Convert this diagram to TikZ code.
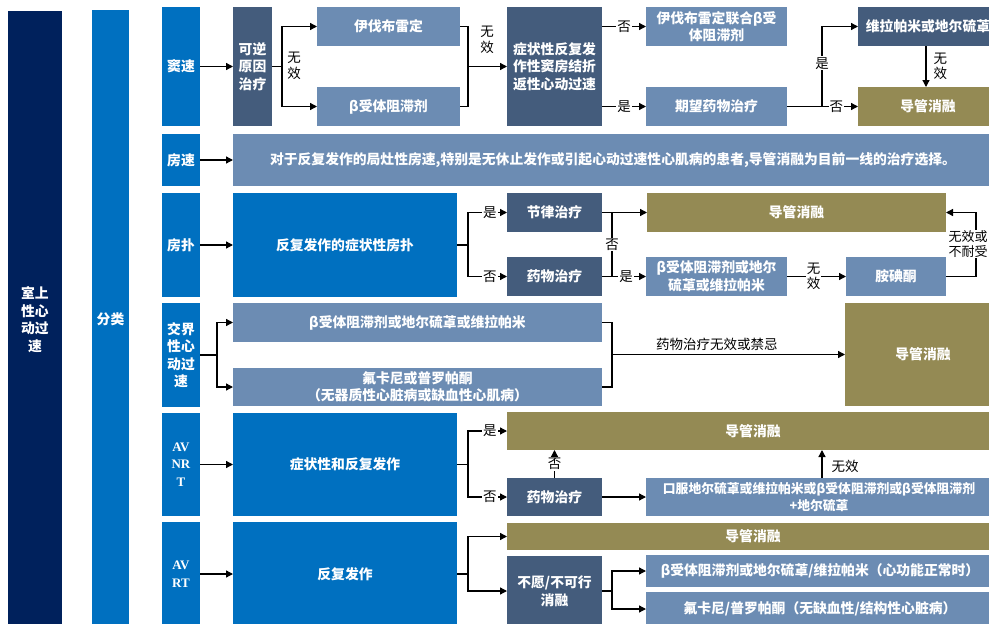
\documentclass[tikz,border=0pt]{standalone}
\usepackage{fontspec}
\usetikzlibrary{arrows.meta,calc}
\newfontfamily\cjk{Noto Sans CJK SC}
\newfontfamily\lserif{Liberation Serif}
\definecolor{cnavy}{HTML}{00215C}
\definecolor{cblue}{HTML}{0070C0}
\definecolor{cslate}{HTML}{445C7C}
\definecolor{csteel}{HTML}{6C8CB3}
\definecolor{colive}{HTML}{948A54}
\tikzset{
  box/.style={inner sep=0pt, outer sep=0pt, anchor=north west, text=white, align=center,
    font=\cjk\bfseries\fontsize{13.8}{17.5}\selectfont},
  navybox/.style={box, fill=cnavy},
  bluebox/.style={box, fill=cblue},
  slatebox/.style={box, fill=cslate},
  steelbox/.style={box, fill=csteel},
  olivebox/.style={box, fill=colive},
  bw/.style n args={4}{minimum width={(#3-#1)*1pt}, minimum height={(#4-#2)*1pt}},
  arr/.style={line width=1.3pt, -{Triangle[length=7pt,width=7pt]}},
  ln/.style={line width=1.3pt},
  lbl/.style={fill=white, inner sep=1pt, text=black, align=center, font=\cjk\fontsize{13.5}{15.5}\selectfont},
  lblnf/.style={inner sep=1pt, text=black, align=center, font=\cjk\fontsize{13.5}{15.5}\selectfont},
}
\begin{document}
\begin{tikzpicture}[x=1pt,y=-1pt]
\useasboundingbox (0,0) rectangle (989,624);
\clip (0,0) rectangle (989,624);
\fill[white] (0,0) rectangle (989,624);
% left bars
\node[navybox, bw={8}{11}{62}{628}] (main) at (8,11) {室上\\性心\\动过\\速};
\node[bluebox, bw={92}{10}{129}{628}] (cls) at (92,10) {分类};
% category column
\node[bluebox, bw={162}{7}{200}{126}] (c1) at (162,7) {窦速};
\node[bluebox, bw={162}{134}{200}{186}] (c2) at (162,134) {房速};
\node[bluebox, bw={162}{193}{200}{297}] (c3) at (162,193) {房扑};
\node[bluebox, bw={162}{303}{200}{407}] (c4) at (162,303) {交界\\性心\\动过\\速};
\node[bluebox, bw={162}{413}{200}{516}, font=\lserif\bfseries\fontsize{13}{17.5}\selectfont] (c5) at (162,413) {AV\\NR\\T};
\node[bluebox, bw={162}{522}{200}{626}, font=\lserif\bfseries\fontsize{13}{17.5}\selectfont] (c6) at (162,522) {AV\\RT};
% row 1
\node[slatebox, bw={233}{7}{272}{126}] (r1a) at (233,7) {可逆\\原因\\治疗};
\node[steelbox, bw={317}{7}{460}{46}] (r1b) at (317,7) {伊伐布雷定};
\node[steelbox, bw={317}{87}{460}{126}] (r1c) at (317,87) {β受体阻滞剂};
\node[slatebox, bw={507}{7}{602}{126}] (r1d) at (507,7) {症状性反复发\\作性窦房结折\\返性心动过速};
\node[steelbox, bw={646}{7}{787}{46}] (r1e) at (646,7) {伊伐布雷定联合β受\\体阻滞剂};
\node[steelbox, bw={646}{87}{787}{126}] (r1f) at (646,87) {期望药物治疗};
\node[slatebox, bw={858}{7}{998}{46}] (r1g) at (858,7) {维拉帕米或地尔硫䓬};
\node[olivebox, bw={858}{87}{998}{126}] (r1h) at (858,87) {导管消融};
% row 2
\node[steelbox, bw={233}{134}{993}{186}] (r2) at (233,134) {对于反复发作的局灶性房速,特别是无休止发作或引起心动过速性心肌病的患者,导管消融为目前一线的治疗选择。};
% row 3
\node[bluebox, bw={233}{193}{457}{297}] (r3a) at (233,193) {反复发作的症状性房扑};
\node[slatebox, bw={507}{193}{602}{232}] (r3b) at (507,193) {节律治疗};
\node[slatebox, bw={507}{257}{602}{296}] (r3c) at (507,257) {药物治疗};
\node[olivebox, bw={647}{193}{946}{232}] (r3d) at (647,193) {导管消融};
\node[steelbox, bw={646}{257}{787}{296}] (r3e) at (646,257) {β受体阻滞剂或地尔\\硫䓬或维拉帕米};
\node[steelbox, bw={846}{257}{946}{296}] (r3f) at (846,257) {胺碘酮};
% row 4
\node[steelbox, bw={233}{303}{602}{342}] (r4a) at (233,303) {β受体阻滞剂或地尔硫䓬或维拉帕米};
\node[steelbox, bw={233}{368}{602}{406}] (r4b) at (233,368) {氟卡尼或普罗帕酮\\（无器质性心脏病或缺血性心肌病）};
\node[olivebox, bw={845}{303}{1001}{406}] (r4c) at (845,303) {导管消融};
% row 5
\node[bluebox, bw={233}{413}{457}{516}] (r5a) at (233,413) {症状性和反复发作};
\node[olivebox, bw={507}{412}{999}{450}] (r5b) at (507,412) {导管消融};
\node[slatebox, bw={507}{478}{602}{516}] (r5c) at (507,478) {药物治疗};
\node[steelbox, bw={646}{478}{992}{516}, font=\cjk\bfseries\fontsize{12.8}{17}\selectfont] (r5d) at (646,478) {口服地尔硫䓬或维拉帕米或β受体阻滞剂或β受体阻滞剂\\+地尔硫䓬};
% row 6
\node[bluebox, bw={233}{522}{457}{626}] (r6a) at (233,522) {反复发作};
\node[olivebox, bw={507}{523}{999}{550}] (r6b) at (507,523) {导管消融};
\node[slatebox, bw={507}{556}{602}{626}] (r6c) at (507,556) {不愿/不可行\\消融};
\node[steelbox, bw={646}{555}{994}{587}] (r6d) at (646,555) {β受体阻滞剂或地尔硫䓬/维拉帕米（心功能正常时）};
\node[steelbox, bw={646}{592}{994}{626}] (r6e) at (646,592) {氟卡尼/普罗帕酮（无缺血性/结构性心脏病）};

% ---- connectors row 1
\draw[arr] (c1.east) -- (r1a.west);
\coordinate (j1) at (282,66.5);
\draw[ln] (r1a.east) -- (j1);
\draw[arr] (j1) |- (r1b.west);
\draw[arr] (j1) |- (r1c.west);
\node[lblnf] (l1) at (294,66) {无\\效};
\coordinate (j2) at (468,66.5);
\draw[ln] (r1b.east) -| (j2) |- (r1c.east);
\draw[arr] (j2) -- (r1d.west);
\node[lblnf] (l2) at (487,40) {无\\效};
\draw[arr] (r1d.east |- r1e.west) -- node[lbl]{否} (r1e.west);
\draw[arr] (r1d.east |- r1f.west) -- node[lbl]{是} (r1f.west);
\coordinate (j3) at (822,106.5);
\draw[ln] (r1f.east) -- (j3);
\draw[arr] (j3) |- node[lbl,pos=0.27]{是} (r1g.west);
\draw[arr] (j3) -- node[lbl,pos=0.4]{否} (r1h.west);
\draw[arr] ([xshift=-2pt]r1g.south) -- node[lblnf,right=6pt]{无\\效} ([xshift=-2pt]r1h.north);
% row 2
\draw[arr] (c2.east) -- (r2.west);
% row 3
\draw[arr] (c3.east) -- (r3a.west);
\coordinate (j4) at (468,245);
\draw[ln] (r3a.east) -- (j4);
\draw[arr] (j4) |- node[lbl,pos=0.78]{是} (r3b.west);
\draw[arr] (j4) |- node[lbl,pos=0.78]{否} (r3c.west);
\draw[arr] (r3b.east) -- (r3d.west);
\coordinate (j5) at (612,276.5);
\draw[ln] (j5) -- node[lbl]{否} (r3b.east -| j5);
\draw[arr] (r3c.east) -- node[lbl,pos=0.55]{是} (r3e.west);
\draw[arr] (r3e.east) -- node[lbl,pos=0.45]{无\\效} (r3f.west);
\coordinate (j6) at (976,276.5);
\draw[ln] (r3f.east) -- (j6);
\draw[arr] (j6) |- (r3d.east);
\node[lbl, inner sep=0.5pt, font=\cjk\fontsize{13}{15}\selectfont] (l3) at (968,244) {无效或\\不耐受};
% row 4
\coordinate (j7) at (217,355);
\draw[ln] (c4.east) -- (j7);
\draw[arr] (j7) |- (r4a.west);
\draw[arr] (j7) |- (r4b.west);
\coordinate (j8) at (612,354.5);
\draw[ln] (r4a.east) -| (j8) |- (r4b.east);
\draw[arr] (j8) -- node[lblnf,above=2pt,pos=0.45]{药物治疗无效或禁忌} (r4c.west);
% row 5
\draw[arr] (c5.east) -- (r5a.west);
\coordinate (j9) at (468,464.5);
\draw[ln] (r5a.east) -- (j9);
\draw[arr] (j9) |- node[lbl,pos=0.78]{是} (r5b.west);
\draw[arr] (j9) |- node[lbl,pos=0.78]{否} (r5c.west);
\draw[arr] (r5c.north) -- node[lbl]{否} (r5c.north |- r5b.south);
\draw[arr] (r5c.east) -- (r5d.west);
\coordinate (j12) at (822,478);
\draw[arr] (r5d.north -| j12) -- node[lblnf,right=8pt,pos=0.4]{无效} (r5b.south -| j12);
% row 6
\draw[arr] (c6.east) -- (r6a.west);
\coordinate (j10) at (468,574);
\draw[ln] (r6a.east) -- (j10);
\draw[arr] (j10) |- (r6b.west);
\draw[arr] (j10) |- (r6c.west);
\coordinate (j11) at (612,591);
\draw[ln] (r6c.east) -- (j11);
\draw[arr] (j11) |- (r6d.west);
\draw[arr] (j11) |- (r6e.west);
\end{tikzpicture}
\end{document}
